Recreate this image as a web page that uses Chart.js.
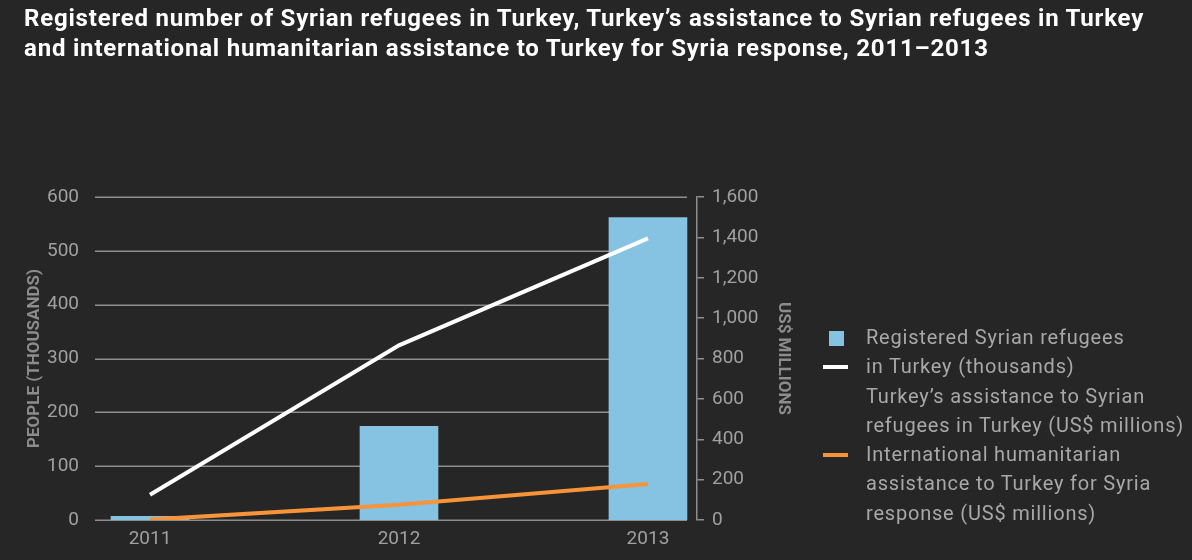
<!DOCTYPE html>
<html>
<head>
<meta charset="utf-8">
<script src="https://cdn.jsdelivr.net/npm/chart.js@4/dist/chart.umd.min.js"></script>
<style>
    html, body {
        margin: 0;
        padding: 0;
        background: #262626;
        width: 1192px;
        height: 560px;
        overflow: hidden;
    }
    #wrap {
        position: relative;
        width: 1192px;
        height: 560px;
    }
    #chart {
        position: absolute;
        left: 0;
        top: 0;
    }
    #title {
        position: absolute;
        left: 24px;
        top: 3px;
        color: #ffffff;
        font-family: Roboto, sans-serif;
        font-weight: bold;
        font-size: 24px;
        letter-spacing: 0.8px;
        line-height: 30px;
        white-space: nowrap;
    }
    #legend {
        position: absolute;
        left: 823px;
        top: 323px;
        color: #a8a8a8;
        font-family: Roboto, sans-serif;
        font-size: 20px;
        letter-spacing: 0.8px;
        line-height: 29.3px;
    }
    .row {
        position: relative;
        padding-left: 43px;
        white-space: nowrap;
    }
    .swatch {
        position: absolute;
        left: 6px;
        top: 8px;
        width: 15px;
        height: 15px;
    }
    .stroke {
        position: absolute;
        left: 0;
        top: 13px;
        width: 25px;
        height: 4px;
    }
</style>
</head>
<body>
<div id="wrap">
    <canvas id="chart" width="1192" height="560"></canvas>
    <div id="title">Registered number of Syrian refugees in Turkey, Turkey’s assistance to Syrian refugees in Turkey<br>and international humanitarian assistance to Turkey for Syria response, 2011–2013</div>
    <div id="legend">
        <div class="row"><span class="swatch" style="background:#86c2e1"></span>Registered Syrian refugees</div>
        <div class="row"><span class="stroke" style="background:#ffffff"></span>in Turkey (thousands)</div>
        <div class="row">Turkey’s assistance to Syrian</div>
        <div class="row">refugees in Turkey (US$ millions)</div>
        <div class="row"><span class="stroke" style="background:#f7943a"></span>International humanitarian</div>
        <div class="row">assistance to Turkey for Syria</div>
        <div class="row">response (US$ millions)</div>
    </div>
</div>
<script>
const years = [2011, 2012, 2013];
const refugeesThousands = [7, 174, 562];
const turkeyAssistance = [125, 865, 1395];
const internationalAssistance = [2, 75, 178];

const GRID = '#8e8e8e';
const TICK_TEXT = '#a0a0a0';

// horizontal guides for the people axis, stopping short of the money axis
const guideLines = {
    id: 'guideLines',
    beforeDatasetsDraw(chart) {
        const { ctx, chartArea, scales } = chart;
        ctx.save();
        ctx.strokeStyle = GRID;
        ctx.lineWidth = 1.5;
        scales.y.ticks.forEach(t => {
            const y = Math.round(scales.y.getPixelForValue(t.value)) + 0.25;
            ctx.beginPath();
            ctx.moveTo(chartArea.left, y);
            ctx.lineTo(chartArea.right - 10, y);
            ctx.stroke();
        });
        ctx.restore();
    }
};

const toPoints = vals => vals.map((v, i) => ({ x: years[i], y: v }));

new Chart(document.getElementById('chart').getContext('2d'), {
    data: {
        datasets: [
            {
                type: 'line',
                label: 'International humanitarian assistance to Turkey for Syria response (US$ millions)',
                data: toPoints(internationalAssistance),
                yAxisID: 'y1',
                borderColor: '#f7943a',
                borderWidth: 4,
                pointRadius: 0,
                tension: 0,
                order: 1
            },
            {
                type: 'line',
                label: 'Turkey’s assistance to Syrian refugees in Turkey (US$ millions)',
                data: toPoints(turkeyAssistance),
                yAxisID: 'y1',
                borderColor: '#ffffff',
                borderWidth: 4,
                pointRadius: 0,
                tension: 0,
                order: 2
            },
            {
                type: 'bar',
                label: 'Registered Syrian refugees in Turkey (thousands)',
                data: toPoints(refugeesThousands),
                yAxisID: 'y',
                backgroundColor: '#86c2e1',
                barThickness: 78,
                order: 3
            }
        ]
    },
    options: {
        responsive: false,
        animation: false,
        layout: {
            padding: { left: 25, right: 399, top: 197, bottom: 10 }
        },
        plugins: {
            legend: { display: false },
            tooltip: { enabled: false }
        },
        scales: {
            x: {
                type: 'linear',
                offset: false,
                min: 2010.779,
                max: 2013.197,
                afterBuildTicks: scale => {
                    scale.ticks = years.map(v => ({ value: v }));
                },
                afterFit: scale => { scale.height = 30; },
                grid: { display: false, drawTicks: false },
                border: { display: false },
                ticks: {
                    color: TICK_TEXT,
                    font: { family: 'Roboto', size: 19 },
                    padding: 8,
                    maxRotation: 0,
                    callback: v => String(v)
                }
            },
            y: {
                position: 'left',
                min: 0,
                max: 600,
                afterFit: scale => { scale.width = 70; },
                grid: { display: false },
                border: { display: false },
                ticks: {
                    stepSize: 100,
                    color: TICK_TEXT,
                    font: { family: 'Roboto', size: 19 },
                    padding: 8
                },
                title: {
                    display: true,
                    text: 'PEOPLE (THOUSANDS)',
                    color: '#8c8c8c',
                    font: { family: 'Roboto', size: 17, weight: 'bold' },
                    padding: 0
                }
            },
            y1: {
                position: 'right',
                min: 0,
                max: 1600,
                afterFit: scale => { scale.width = 96; },
                grid: {
                    drawOnChartArea: false,
                    drawTicks: true,
                    tickLength: 7,
                    color: GRID,
                    lineWidth: 1.5
                },
                border: { display: true, color: GRID, width: 1.5 },
                ticks: {
                    stepSize: 200,
                    color: TICK_TEXT,
                    font: { family: 'Roboto', size: 19 },
                    padding: 8,
                    callback: v => v.toLocaleString('en-US')
                },
                title: {
                    display: true,
                    text: 'US$ MILLIONS',
                    color: '#8c8c8c',
                    font: { family: 'Roboto', size: 17, weight: 'bold' },
                    padding: 0
                }
            }
        }
    },
    plugins: [guideLines]
});
</script>
</body>
</html>
